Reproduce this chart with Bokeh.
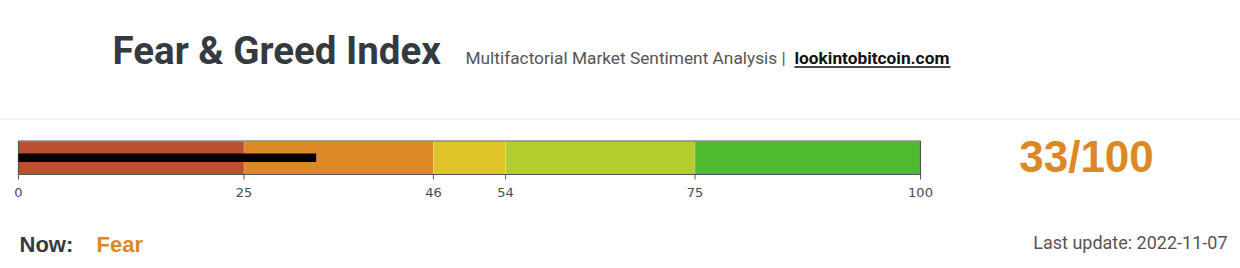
from bokeh.plotting import figure
from bokeh.models import Range1d, ColumnDataSource
from bokeh.core.properties import value
from bokeh.embed import file_html
from bokeh.resources import INLINE

# ---- data ----
band_starts = [0, 25, 46, 54, 75]
band_ends = [25, 46, 54, 75, 100]
band_colors = ["#bb4f2e", "#dc8826", "#e0c328", "#b3cd2c", "#50bb31"]
tick_values = [0, 25, 46, 54, 75, 100]
tick_labels = ["0", "25", "46", "54", "75", "100"]
index_value = 33
index_max = 100
sentiment = "Fear"
last_update = "2022-11-07"

W, H = 1240, 268
BAR_L, BAR_R = 18, 920
ppu = (BAR_R - BAR_L) / (index_max - 0)

p = figure(width=W, height=H, output_backend="svg", toolbar_location=None,
           x_range=Range1d(-BAR_L / ppu, (W - BAR_L) / ppu),
           y_range=Range1d(H, 0), min_border=0,
           min_border_left=0, min_border_right=0, min_border_top=0, min_border_bottom=0)
p.extra_x_ranges = {"px": Range1d(0, W)}
p.axis.visible = False
p.grid.visible = False
p.outline_line_color = None
p.background_fill_color = "white"
p.border_fill_color = "white"


def base(y, size):
    # bokeh's svg text baseline sits ~0.4em below the given y here
    return y - 0.4 * size


# header separator
p.segment(x0=[0], x1=[W], y0=[118.5], y1=[118.5], x_range_name="px",
          line_color="#e6e6e6", line_width=1)

# bands
src = ColumnDataSource(dict(l=band_starts, r=band_ends, c=band_colors))
p.quad(left="l", right="r", top=141, bottom=174, fill_color="c", line_color=None, source=src)
p.segment(x0=band_starts[1:], x1=band_starts[1:], y0=141, y1=174,
          line_color="white", line_alpha=0.25, line_width=1)
p.quad(left=[0], right=[index_max], top=140.5, bottom=174, fill_color=None,
       line_color="#555555", line_width=1.2)
p.quad(left=[0], right=[index_value], top=153, bottom=161.5, fill_color="black", line_color=None)

# ticks
p.segment(x0=tick_values, x1=tick_values, y0=174, y1=179, line_color="#555555", line_width=1)
p.text(x=tick_values, y=[base(197, 13)] * len(tick_values), text=tick_labels,
       text_font=value("DejaVu Sans"), text_font_size="13px", text_color="#4a4a4a",
       text_align="center", text_baseline="alphabetic")

# header texts
p.text(x=[112], y=[base(65, 38.5)], text=["Fear & Greed Index"], x_range_name="px",
       text_font=value("Roboto"), text_font_style="bold", text_font_size="38.5px",
       text_color="#343a40", text_baseline="alphabetic")
p.text(x=[465], y=[base(64, 17.3)], text=["Multifactorial Market Sentiment Analysis | "], x_range_name="px",
       text_font=value("Roboto"), text_font_size="17.3px",
       text_color="#555555", text_baseline="alphabetic")
p.text(x=[794], y=[base(64, 17.3)], text=["lookintobitcoin.com"], x_range_name="px",
       text_font=value("Roboto"), text_font_style="bold", text_font_size="17.3px",
       text_color="#111111", text_baseline="alphabetic")
p.segment(x0=[794], x1=[950], y0=[66.5], y1=[66.5], x_range_name="px",
          line_color="#111111", line_width=1.3)

# score
p.text(x=[1086], y=[base(174, 44)], text=[f"{index_value}/{index_max}"], x_range_name="px",
       text_font=value("Liberation Sans"), text_font_style="bold", text_font_size="44px",
       text_color="#dc8826", text_align="center", text_baseline="alphabetic")

# footer
p.text(x=[19], y=[base(253, 22)], text=["Now:"], x_range_name="px",
       text_font=value("Liberation Sans"), text_font_style="bold", text_font_size="22px",
       text_color="#343a40", text_baseline="alphabetic")
p.text(x=[96], y=[base(253, 22)], text=[sentiment], x_range_name="px",
       text_font=value("Liberation Sans"), text_font_style="bold", text_font_size="22px",
       text_color="#dc8826", text_baseline="alphabetic")
p.text(x=[1227], y=[base(249, 18)], text=[f"Last update: {last_update}"], x_range_name="px",
       text_font=value("Roboto"), text_font_size="18px",
       text_color="#555555", text_align="right", text_baseline="alphabetic")

open("out.html", "w").write(file_html(p, INLINE))
